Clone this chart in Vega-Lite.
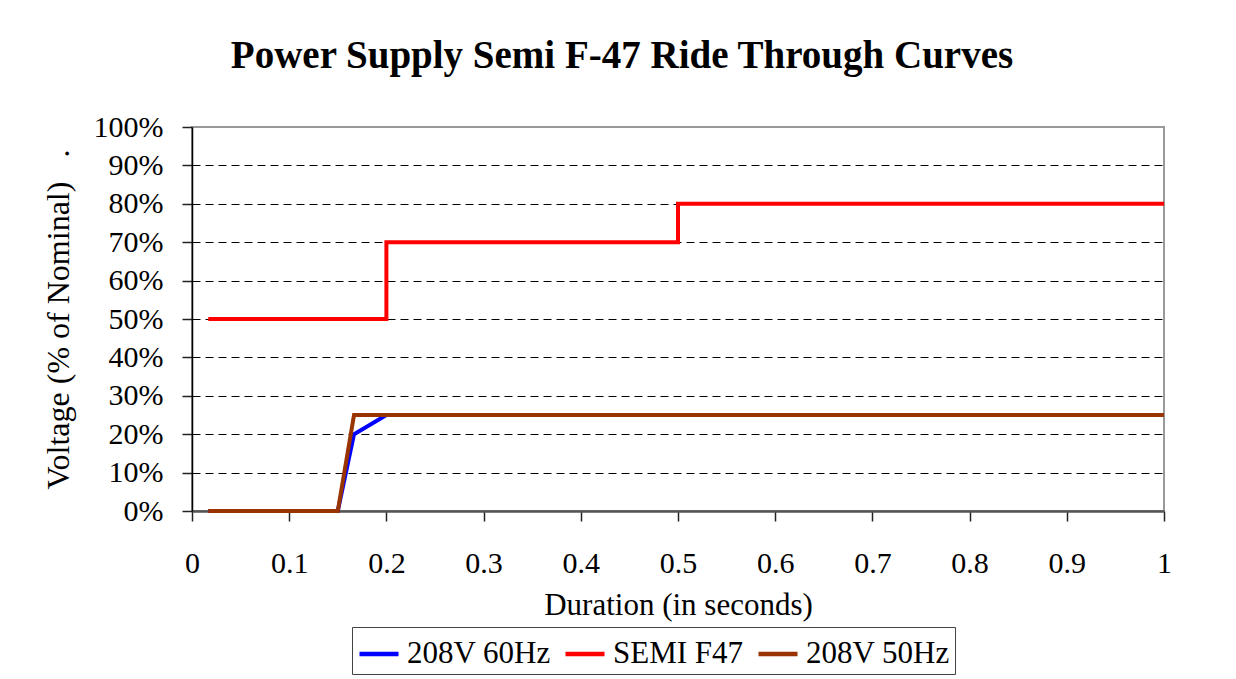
{
  "$schema": "https://vega.github.io/schema/vega-lite/v6.json",
  "width": 972,
  "height": 384,
  "autosize": {"type": "none"},
  "padding": {"left": 192, "top": 127, "right": 72, "bottom": 168},
  "background": "white",
  "config": {
    "font": "Liberation Serif",
    "view": {"stroke": "#999999", "strokeWidth": 2},
    "axis": {"labelColor": "black", "titleColor": "black", "labelFont": "Liberation Serif", "titleFont": "Liberation Serif", "titleFontWeight": "normal"}
  },
  "title": {
    "text": "Power Supply Semi F-47 Ride Through Curves",
    "font": "Liberation Serif",
    "fontSize": 39,
    "fontWeight": "bold",
    "color": "black",
    "anchor": "middle",
    "frame": "group",
    "dx": -56,
    "offset": 36
  },
  "data": {
    "values": [
      {"series": "SEMI F47", "i": 1, "t": 0.0167, "v": 0.5},
      {"series": "SEMI F47", "i": 2, "t": 0.2, "v": 0.5},
      {"series": "SEMI F47", "i": 3, "t": 0.2, "v": 0.7},
      {"series": "SEMI F47", "i": 4, "t": 0.5, "v": 0.7},
      {"series": "SEMI F47", "i": 5, "t": 0.5, "v": 0.8},
      {"series": "SEMI F47", "i": 6, "t": 1.0, "v": 0.8},
      {"series": "208V 60Hz", "i": 1, "t": 0.0167, "v": 0},
      {"series": "208V 60Hz", "i": 2, "t": 0.15, "v": 0},
      {"series": "208V 60Hz", "i": 3, "t": 0.1667, "v": 0.2},
      {"series": "208V 60Hz", "i": 4, "t": 0.2, "v": 0.25},
      {"series": "208V 60Hz", "i": 5, "t": 1.0, "v": 0.25},
      {"series": "208V 50Hz", "i": 1, "t": 0.0167, "v": 0},
      {"series": "208V 50Hz", "i": 2, "t": 0.15, "v": 0},
      {"series": "208V 50Hz", "i": 3, "t": 0.1667, "v": 0.25},
      {"series": "208V 50Hz", "i": 4, "t": 1.0, "v": 0.25}
    ]
  },
  "mark": {"type": "line", "strokeWidth": 4, "clip": false},
  "encoding": {
    "x": {
      "field": "t",
      "type": "quantitative",
      "scale": {"domain": [0, 1], "nice": false},
      "axis": {
        "title": "Duration (in seconds)",
        "titleFontSize": 31,
        "titlePadding": 12,
        "values": [0, 0.1, 0.2, 0.3, 0.4, 0.5, 0.6, 0.7, 0.8, 0.9, 1],
        "labelExpr": "format(datum.value, '~g')",
        "labelFontSize": 30,
        "labelPadding": 27,
        "labelFlush": false,
        "labelOverlap": false,
        "tickSize": 10,
        "tickColor": "#222222",
        "tickWidth": 1.5,
        "domainColor": "#555555",
        "domainWidth": 2.5,
        "grid": false
      }
    },
    "y": {
      "field": "v",
      "type": "quantitative",
      "scale": {"domain": [0, 1], "nice": false},
      "axis": {
        "title": "Voltage (% of Nominal)\u00a0\u00a0\u00a0.",
        "titleFontSize": 32,
        "titlePadding": 18,
        "values": [0, 0.1, 0.2, 0.3, 0.4, 0.5, 0.6, 0.7, 0.8, 0.9, 1],
        "format": ".0%",
        "labelFontSize": 30,
        "labelPadding": 19,
        "labelFlush": false,
        "labelOverlap": false,
        "tickSize": 10,
        "tickColor": "#222222",
        "tickWidth": 1.5,
        "domainColor": "black",
        "domainWidth": 1.5,
        "grid": true,
        "gridColor": "black",
        "gridWidth": 1,
        "gridDash": [8, 5],
        "gridOpacity": {"condition": {"test": "datum.value == 0 || datum.value == 1", "value": 0}, "value": 1}
      }
    },
    "color": {
      "field": "series",
      "type": "nominal",
      "scale": {"domain": ["208V 60Hz", "SEMI F47", "208V 50Hz"], "range": ["#0000FF", "#FF0000", "#993300"]},
      "legend": {
        "title": null,
        "orient": "none",
        "legendX": 160,
        "legendY": 500,
        "direction": "horizontal",
        "symbolType": "stroke",
        "symbolSize": 1521,
        "symbolStrokeWidth": 4.5,
        "labelFontSize": 31,
        "labelFont": "Liberation Serif",
        "labelColor": "black",
        "labelOffset": 6,
        "columnPadding": 5,
        "padding": 5,
        "strokeColor": "#444444",
        "labelLimit": 300
      }
    },
    "detail": {"field": "series"},
    "order": {"field": "i", "type": "quantitative"}
  }
}
